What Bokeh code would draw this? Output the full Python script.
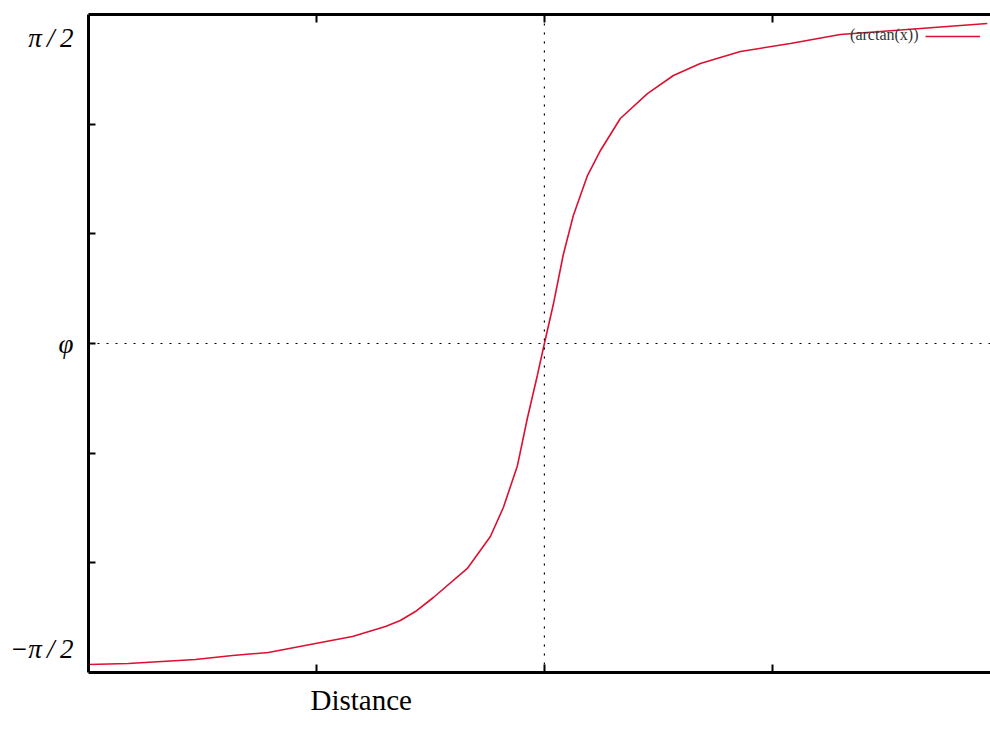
import numpy as np
from bokeh.plotting import figure
from bokeh.models import (Range1d, LinearAxis, FixedTicker, CustomJSTickFormatter,
                          Span, Label, Legend, LegendItem, Title)
from bokeh.embed import file_html
from bokeh.resources import INLINE

# ---- data ----
distance = [-2.0, -1.825, -1.531, -1.368, -1.211, -1.004, -0.842, -0.697, -0.632,
            -0.566, -0.487, -0.338, -0.237, -0.180, -0.118, -0.075, -0.031, 0.0,
            0.039, 0.083, 0.127, 0.189, 0.246, 0.333, 0.452, 0.566, 0.684, 0.860,
            1.079, 1.298, 1.592, 1.943]
phi = [-1.648, -1.643, -1.622, -1.602, -1.586, -1.540, -1.504, -1.453, -1.422,
       -1.376, -1.304, -1.155, -0.991, -0.842, -0.626, -0.385, -0.164, 0.0,
       0.200, 0.457, 0.657, 0.862, 0.991, 1.155, 1.283, 1.376, 1.437, 1.499,
       1.540, 1.586, 1.612, 1.643]

x_ticks = [-1, 0, 1]
y_label_ticks = [-np.pi / 2, 0.0, np.pi / 2]
y_tick_labels = ["\u2212\u03c0\u2009/\u20092", "\u03c6", "\u03c0\u2009/\u20092"]
y_minor_ticks = [-1.126, -0.563, 0.0, 0.563, 1.126]
x_label = "Distance"
legend_text = "(arctan(x))"

X_MIN, X_MAX = -2.0, 1.957
Y_MIN, Y_MAX = -1.689, 1.689

p = figure(width=990, height=730, output_backend="svg", toolbar_location=None,
           x_range=Range1d(X_MIN, X_MAX), y_range=Range1d(Y_MIN, Y_MAX),
           min_border_left=88, min_border_right=0, min_border_top=14,
           min_border_bottom=58)
p.grid.visible = False
p.outline_line_color = None
p.background_fill_color = "white"
p.border_fill_color = "white"

serif = "Liberation Serif"

# bottom axis
xa = p.xaxis[0]
xa.ticker = FixedTicker(ticks=x_ticks, minor_ticks=[])
xa.formatter = CustomJSTickFormatter(code="return '';")
xa.axis_line_width = 3
xa.axis_line_color = "black"
xa.major_tick_in = 8
xa.major_tick_out = 0
xa.major_tick_line_width = 2
xa.minor_tick_line_color = None
xa.minor_tick_out = 0
xa.major_label_standoff = 0

# top axis
ta = LinearAxis(ticker=FixedTicker(ticks=x_ticks, minor_ticks=[]),
                formatter=CustomJSTickFormatter(code="return '';"))
ta.axis_line_width = 3
ta.major_tick_in = 8
ta.major_tick_out = 0
ta.major_tick_line_width = 2
ta.minor_tick_line_color = None
ta.minor_tick_out = 0
ta.major_label_standoff = 0
p.add_layout(ta, "above")

# left axis
ya = p.yaxis[0]
ya.ticker = FixedTicker(ticks=y_label_ticks, minor_ticks=y_minor_ticks)
ya.formatter = CustomJSTickFormatter(
    args=dict(vals=y_label_ticks, labels=y_tick_labels),
    code="for (let i = 0; i < vals.length; i++) { if (Math.abs(tick - vals[i]) < 1e-6) return labels[i]; } return '';")
ya.axis_line_width = 3
ya.major_tick_in = 0
ya.major_tick_out = 0
ya.minor_tick_in = 7
ya.minor_tick_out = 0
ya.minor_tick_line_width = 2
ya.minor_tick_line_color = "black"
ya.major_label_standoff = 15
ya.major_label_text_font = serif
ya.major_label_text_font_style = "italic"
ya.major_label_text_font_size = "27px"
ya.major_label_text_color = "black"

# x label as a title below the axis, shifted to the left
p.add_layout(Title(text=x_label, align="left", offset=222, standoff=22,
                   vertical_align="top",
                   text_font=serif, text_font_size="29px",
                   text_font_style="normal", text_color="black"), "below")

# dotted zero lines
p.add_layout(Span(location=0, dimension="height", line_color="black",
                  line_width=1.2, line_dash="2 7"))
p.add_layout(Span(location=0, dimension="width", line_color="black",
                  line_width=1.2, line_dash="2 7"))

r = p.line(distance, phi, line_color="#dc1030", line_width=1.6)

# legend (gnuplot style: text then sample)
legend = Legend(items=[LegendItem(label=" ", renderers=[r])],
                location=(837, 631), padding=0, margin=0, spacing=0,
                glyph_width=55, glyph_height=10, label_standoff=0,
                label_text_font_size="8px", border_line_color=None,
                background_fill_alpha=0)
p.add_layout(legend)
p.add_layout(Label(x=1.641, y=1.586, text=legend_text, text_align="right",
                   text_baseline="middle", text_font=serif,
                   text_font_size="16px", text_color="#333333"))

open("out.html", "w").write(file_html(p, INLINE))
